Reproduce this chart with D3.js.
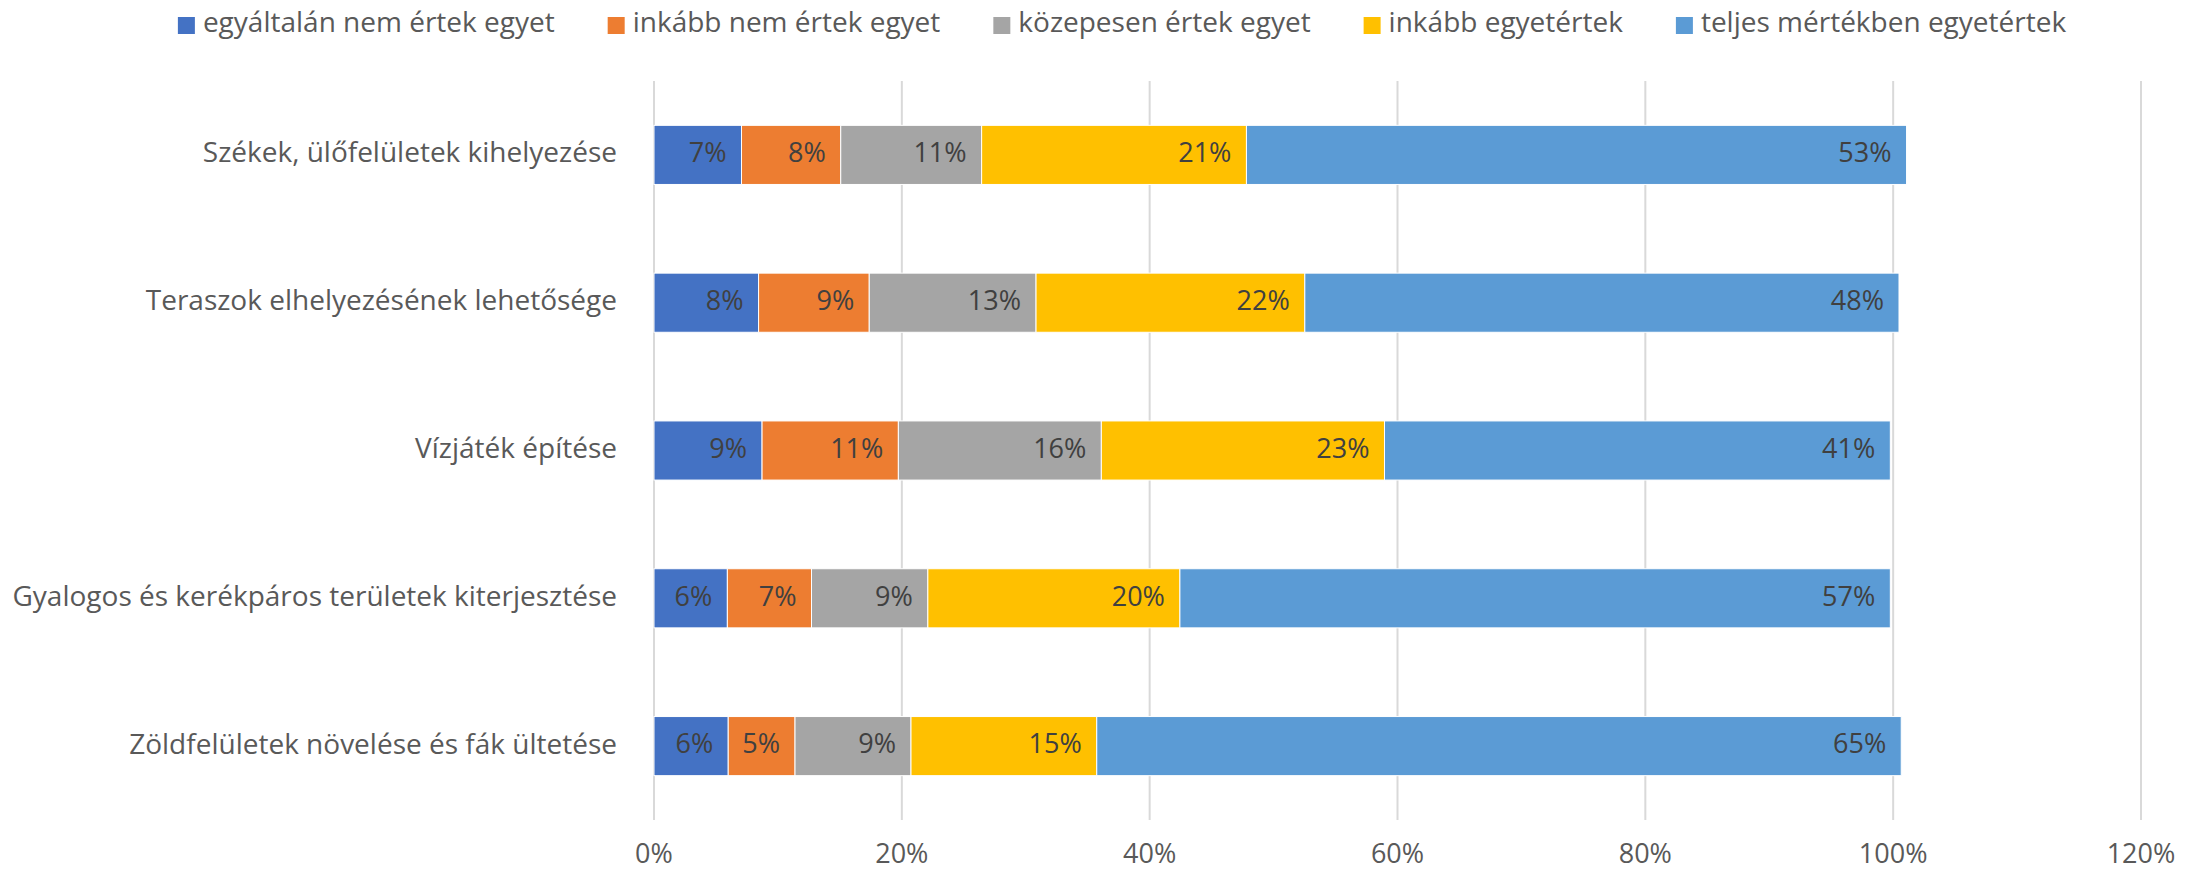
<!DOCTYPE html>
<html>
<head>
<meta charset="utf-8">
<script src="https://cdn.jsdelivr.net/npm/d3@7"></script>
<style>
  body { margin: 0; background: #fff; }
  svg text { font-family: "Open Sans", "Noto Sans", sans-serif; }
</style>
</head>
<body>
<div id="chart"></div>
<script>
const categories = [
    'Székek, ülőfelületek kihelyezése',
    'Teraszok elhelyezésének lehetősége',
    'Vízjáték építése',
    'Gyalogos és kerékpáros területek kiterjesztése',
    'Zöldfelületek növelése és fák ültetése'
];

const seriesNames = [
    'egyáltalán nem értek egyet',
    'inkább nem értek egyet',
    'közepesen értek egyet',
    'inkább egyetértek',
    'teljes mértékben egyetértek'
];

// values per series, in category order (percent)
const notAtAll   = [7.06, 8.44, 8.72, 5.92, 5.99];
const ratherNot  = [8.01, 8.93, 11.00, 6.79, 5.39];
const medium     = [11.37, 13.46, 16.38, 9.39, 9.36];
const ratherYes  = [21.37, 21.69, 22.85, 20.34, 14.99];
const fully      = [53.27, 47.95, 40.82, 57.33, 64.92];

const xTicks = [0, 20, 40, 60, 80, 100, 120];
const colors = ['#4472C4', '#ED7D31', '#A5A5A5', '#FFC000', '#5B9BD5'];

const width = 2201, height = 874;
const margin = { top: 81, right: 60, bottom: 54, left: 654 };
const fontSize = '27px';
const labelSize = '28px';

const svg = d3.select('#chart').append('svg')
    .attr('width', width)
    .attr('height', height);

const x = d3.scaleLinear()
    .domain([0, 120])
    .range([margin.left, 2141]);

const y = d3.scaleBand()
    .domain(categories)
    .range([margin.top, height - margin.bottom])
    .paddingInner(0.6)
    .paddingOuter(0.3);

const rows = categories.map((c, i) => {
    const vals = [notAtAll[i], ratherNot[i], medium[i], ratherYes[i], fully[i]];
    let acc = 0;
    return vals.map((v, k) => {
        const seg = { cat: c, k, v, x0: acc, x1: acc + v };
        acc += v;
        return seg;
    });
});

// gridlines
svg.append('g')
    .selectAll('line')
    .data(xTicks)
    .join('line')
    .attr('x1', d => x(d))
    .attr('x2', d => x(d))
    .attr('y1', margin.top)
    .attr('y2', height - margin.bottom)
    .attr('stroke', '#d9d9d9')
    .attr('stroke-width', 2);

// tick labels
svg.append('g')
    .selectAll('text')
    .data(xTicks)
    .join('text')
    .attr('x', d => x(d))
    .attr('y', 856)
    .attr('text-anchor', 'middle')
    .attr('dominant-baseline', 'middle')
    .attr('fill', '#595959')
    .style('font-size', fontSize)
    .text(d => d + '%');

// category labels
svg.append('g')
    .selectAll('text')
    .data(categories)
    .join('text')
    .attr('x', margin.left - 37)
    .attr('y', d => y(d) + y.bandwidth() / 2)
    .attr('text-anchor', 'end')
    .attr('dominant-baseline', 'middle')
    .attr('fill', '#595959')
    .style('font-size', labelSize)
    .text(d => d);

// bars
const barG = svg.append('g');
rows.forEach(row => {
    const g = barG.append('g');
    g.selectAll('rect')
        .data(row)
        .join('rect')
        .attr('x', d => x(d.x0))
        .attr('y', d => y(d.cat))
        .attr('width', d => x(d.x1) - x(d.x0))
        .attr('height', y.bandwidth())
        .attr('fill', d => colors[d.k])
        .attr('stroke', '#fff')
        .attr('stroke-width', 1);

    g.selectAll('text')
        .data(row)
        .join('text')
        .attr('x', d => x(d.x1) - 15)
        .attr('y', d => y(d.cat) + y.bandwidth() / 2)
        .attr('text-anchor', 'end')
        .attr('dominant-baseline', 'middle')
        .attr('fill', '#404040')
        .style('font-size', fontSize)
        .text(d => Math.round(d.v) + '%');
});

// legend
const legend = svg.append('g');
const items = legend.selectAll('g')
    .data(seriesNames)
    .join('g');

items.append('rect')
    .attr('width', 17)
    .attr('height', 17)
    .attr('y', -8)
    .attr('fill', (d, i) => colors[i]);

items.append('text')
    .attr('x', 25)
    .attr('dominant-baseline', 'middle')
    .attr('fill', '#595959')
    .style('font-size', labelSize)
    .text(d => d);

let lx = 0;
items.each(function () {
    const w = 25 + this.querySelector('text').getComputedTextLength();
    d3.select(this).attr('transform', `translate(${lx}, 0)`);
    lx += w + 53;
});
lx -= 53;
legend.attr('transform', `translate(${(164 + 2080) / 2 - lx / 2}, 25)`);
</script>
</body>
</html>
